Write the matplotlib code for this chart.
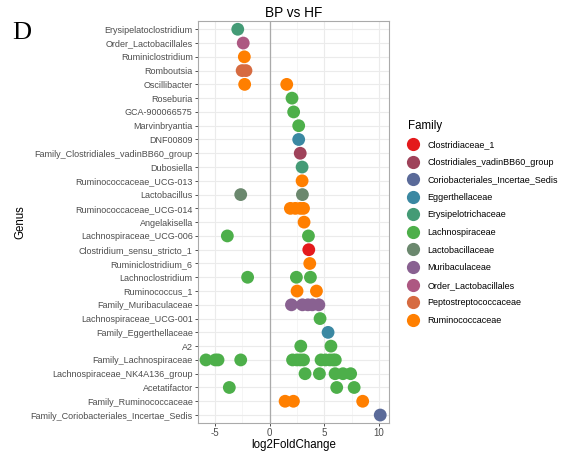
import matplotlib
matplotlib.use("Agg")
import matplotlib.pyplot as plt
from matplotlib.lines import Line2D

plt.rcParams['font.family'] = ['Liberation Sans', 'DejaVu Sans']
plt.rcParams['axes.unicode_minus'] = False

genera = [
    "Erysipelatoclostridium", "Order_Lactobacillales", "Ruminiclostridium", "Romboutsia",
    "Oscillibacter", "Roseburia", "GCA-900066575", "Marvinbryantia", "DNF00809",
    "Family_Clostridiales_vadinBB60_group", "Dubosiella", "Ruminococcaceae_UCG-013",
    "Lactobacillus", "Ruminococcaceae_UCG-014", "Angelakisella", "Lachnospiraceae_UCG-006",
    "Clostridium_sensu_stricto_1", "Ruminiclostridium_6", "Lachnoclostridium",
    "Ruminococcus_1", "Family_Muribaculaceae", "Lachnospiraceae_UCG-001",
    "Family_Eggerthellaceae", "A2", "Family_Lachnospiraceae",
    "Lachnospiraceae_NK4A136_group", "Acetatifactor", "Family_Ruminococcaceae",
    "Family_Coriobacteriales_Incertae_Sedis",
]

genus_family = [
    "Erysipelotrichaceae", "Order_Lactobacillales", "Ruminococcaceae", "Peptostreptococcaceae",
    "Ruminococcaceae", "Lachnospiraceae", "Lachnospiraceae", "Lachnospiraceae", "Eggerthellaceae",
    "Clostridiales_vadinBB60_group", "Erysipelotrichaceae", "Ruminococcaceae",
    "Lactobacillaceae", "Ruminococcaceae", "Ruminococcaceae", "Lachnospiraceae",
    "Clostridiaceae_1", "Ruminococcaceae", "Lachnospiraceae",
    "Ruminococcaceae", "Muribaculaceae", "Lachnospiraceae",
    "Eggerthellaceae", "Lachnospiraceae", "Lachnospiraceae",
    "Lachnospiraceae", "Lachnospiraceae", "Ruminococcaceae",
    "Coriobacteriales_Incertae_Sedis",
]

log2fc = [
    [-2.9],
    [-2.4],
    [-2.3],
    [-2.5, -2.15],
    [-2.27, 1.57],
    [2.05],
    [2.2],
    [2.66],
    [2.66],
    [2.8],
    [2.97],
    [2.97],
    [-2.63, 3.0],
    [1.9, 2.35, 2.8, 3.1],
    [3.15],
    [-3.85, 3.55],
    [3.58],
    [3.67],
    [-2.0, 2.45, 3.73],
    [2.51, 4.28],
    [2.0, 3.0, 3.5, 3.9, 4.5],
    [4.61],
    [5.34],
    [2.85, 5.6],
    [-5.8, -4.95, -4.7, -2.63, 2.1, 2.5, 2.8, 3.1, 4.7, 5.1, 5.5, 5.8, 6.0],
    [3.24, 4.55, 5.98, 6.7, 7.4],
    [-3.67, 6.13, 7.72],
    [1.42, 2.18, 8.5],
    [10.1],
]

families = [
    "Clostridiaceae_1", "Clostridiales_vadinBB60_group", "Coriobacteriales_Incertae_Sedis",
    "Eggerthellaceae", "Erysipelotrichaceae", "Lachnospiraceae", "Lactobacillaceae",
    "Muribaculaceae", "Order_Lactobacillales", "Peptostreptococcaceae", "Ruminococcaceae",
]
family_colors = [
    "#E41A1C", "#9F425A", "#5A6A99", "#3B88A2", "#449B76", "#4DAF4A",
    "#6B886E", "#896191", "#AD5882", "#D66B41", "#FF7F00",
]
cmap = dict(zip(families, family_colors))

W, H = 567, 453
fig = plt.figure(figsize=(W / 100, H / 100), dpi=100)
ax = fig.add_axes([198.3 / W, 1 - 423.3 / H, (389 - 198.3) / W, (423.3 - 21) / H])

n = len(genera)
ypos = {g: n - i for i, g in enumerate(genera)}

ax.axvline(0, color="#AAAAAA", lw=0.9, zorder=1)
for g, fam, vals in zip(genera, genus_family, log2fc):
    ax.scatter(vals, [ypos[g]] * len(vals), s=85, color=cmap[fam], edgecolors="none", zorder=3)

ax.set_yticks([ypos[g] for g in genera])
ax.set_yticklabels(genera)
ax.set_xticks([-5, 0, 5, 10])
ax.set_xticks([-2.5, 2.5, 7.5], minor=True)
ax.set_ylim(0.4, n + 0.6)
ax.set_xlim(-6.5, 10.9)
ax.grid(True, which="major", color="#EBEBEB", lw=0.8, zorder=0)
ax.grid(True, which="minor", axis="x", color="#F2F2F2", lw=0.5, zorder=0)
ax.set_axisbelow(True)
for sp in ax.spines.values():
    sp.set_color("#AAAAAA")
    sp.set_linewidth(0.8)
ax.tick_params(axis="both", which="major", labelsize=6.5, colors="#333333",
               labelcolor="#4D4D4D", length=2.5, width=0.6, pad=1.5)
ax.tick_params(axis="x", which="major", labelsize=7, pad=1)
ax.tick_params(axis="x", which="minor", length=0)
ax.set_xlabel("log2FoldChange", fontsize=8.3, labelpad=0.5)
ax.set_ylabel("Genus", fontsize=8.3)
ax.yaxis.set_label_coords(-172 / (389 - 198.3), 0.5)
ax.set_title("BP vs HF", fontsize=9.8, pad=3)

handles = [Line2D([0], [0], marker="o", ls="none", markersize=9.5,
                  markerfacecolor=c, markeredgecolor="none") for c in family_colors]
leg = fig.legend(handles, families, loc="upper left", bbox_to_anchor=(404 / W, 1 - 116 / H),
                 frameon=False, title="Family", fontsize=6.5, title_fontsize=8.3,
                 labelspacing=0.95, handletextpad=1.0, handlelength=1.2, borderaxespad=0)
leg._legend_box.align = "left"

fig.text(12 / W, 1 - 33 / H, "D", fontsize=19, family="Liberation Serif", va="center")

fig.savefig("out.png", dpi=100)
